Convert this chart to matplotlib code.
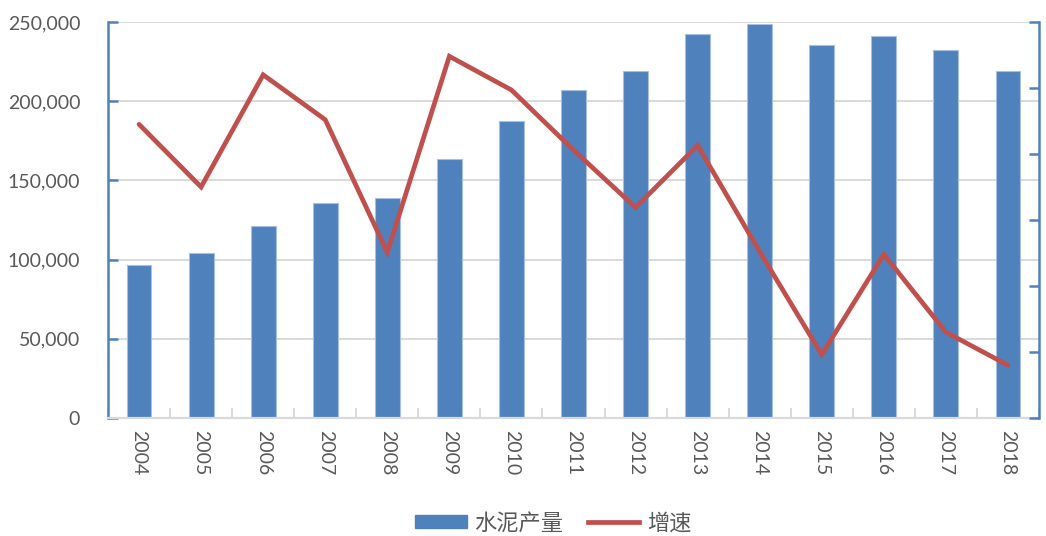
import matplotlib
matplotlib.use("Agg")
import matplotlib.pyplot as plt
import numpy as np
from matplotlib.patches import Patch
from matplotlib.lines import Line2D

years = ["2004", "2005", "2006", "2007", "2008", "2009", "2010", "2011",
         "2012", "2013", "2014", "2015", "2016", "2017", "2018"]
production = [96800, 104000, 120900, 135900, 139200, 163300, 187300, 207100,
              219000, 242400, 248700, 235600, 241100, 232300, 218800]
growth = [12.25, 7.5, 16.0, 12.6, 2.55, 17.4, 14.85, 10.3, 5.95, 10.65,
          2.6, -5.2, 2.4, -3.5, -6.0]
left_ticks = [0, 50000, 100000, 150000, 200000, 250000]
right_ticks = [-10, -5, 0, 5, 10, 15, 20]

plt.rcParams['font.family'] = ['Lato', 'Noto Sans CJK SC', 'DejaVu Sans']

BLUE = "#4F81BD"
RED = "#C0504D"
GRID = "#D9D9D9"
TXT = "#595959"

fig = plt.figure(figsize=(10.46, 5.36), dpi=100)
ax = fig.add_axes([108/1046, 1-418/536, (1039-108)/1046, (418-22)/536])
x = np.arange(len(years))

ax.set_axisbelow(True)
ax.grid(axis='y', color=GRID, linewidth=1.4)
ax.bar(x, production, width=0.4, color=BLUE, edgecolor="#A7BFE0", linewidth=0.8, zorder=2)
ax.set_xlim(-0.5, len(years) - 0.5)
ax.set_ylim(0, 250000)
ax.set_yticks(left_ticks)
ax.set_yticklabels([f"{v:,}" for v in left_ticks], fontsize=14, color=TXT)
ax.set_xticks(x)
ax.set_xticklabels(years, rotation=-90, fontsize=14, color=TXT)
ax.tick_params(axis='x', length=0, pad=9)
ax.set_xticks(np.arange(-0.5, len(years)), minor=True)
ax.tick_params(axis='x', which='minor', direction='in', length=7, color=GRID, width=1.4)
ax.tick_params(axis='y', direction='in', length=7, color=BLUE, width=1.8, pad=20)
ax.spines['top'].set_visible(False)
ax.spines['right'].set_visible(False)
ax.spines['left'].set_color(BLUE)
ax.spines['left'].set_linewidth(1.8)
ax.spines['bottom'].set_color(GRID)
ax.spines['bottom'].set_linewidth(1.6)

ax2 = ax.twinx()
ax2.plot(x, growth, color=RED, linewidth=3.4, solid_capstyle='round', solid_joinstyle='miter', zorder=3)
ax2.set_ylim(-10, 20)
ax2.set_yticks(right_ticks)
ax2.set_yticklabels([])
ax2.tick_params(axis='y', direction='in', length=7, color=BLUE, width=1.8)
ax2.spines['top'].set_visible(False)
ax2.spines['left'].set_visible(False)
ax2.spines['bottom'].set_visible(False)
ax2.spines['right'].set_color(BLUE)
ax2.spines['right'].set_linewidth(1.8)

handles = [Patch(facecolor=BLUE, edgecolor=BLUE), Line2D([0], [0], color=RED, linewidth=3.4)]
fig.legend(handles, ["水泥产量", "增速"], loc='center', bbox_to_anchor=(0.529, 1-523/536),
           ncol=2, frameon=False, fontsize=16, handlelength=2.3, handleheight=0.5,
           columnspacing=1.1, handletextpad=0.35, labelcolor=TXT)

fig.savefig("out.png", dpi=100)
